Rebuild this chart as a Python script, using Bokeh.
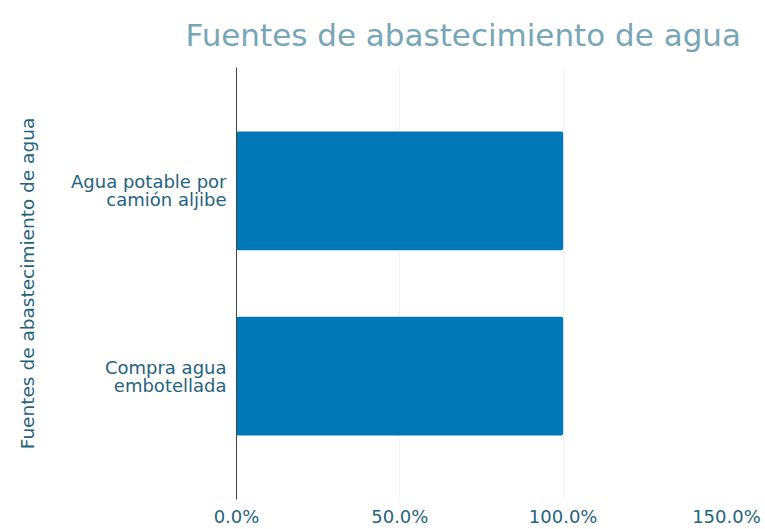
from bokeh.plotting import figure
from bokeh.models import Range1d, FixedTicker
from bokeh.embed import file_html
from bokeh.resources import INLINE

categories = ["Compra agua\nembotellada", "Agua potable por\ncamión aljibe"]
values = [100.0, 100.0]
x_ticks = [0, 50, 100, 150]
title_text = "Fuentes de abastecimiento de agua"
y_title = "Fuentes de abastecimiento de agua"

FONT = "DejaVu Sans"
TICK_COLOR = "#25637e"
TITLE_COLOR = "#77a6b6"
BAR_COLOR = "#0077b6"

positions = list(range(len(categories)))

p = figure(width=765, height=529, output_backend="svg", toolbar_location=None,
           x_range=Range1d(0, 150), y_range=Range1d(-0.665, 1.665),
           min_border_left=236, min_border_right=39, min_border_top=62,
           min_border_bottom=27)

p.hbar(y=positions, right=values, left=0, height=0.64, color=BAR_COLOR,
       line_color=None, border_radius=2)

p.title.text = title_text
p.title.text_font = FONT
p.title.text_font_size = "31px"
p.title.text_font_style = "normal"
p.title.text_color = TITLE_COLOR
p.title.text_line_height = 1.0
p.title.align = "left"
p.title.offset = -51
p.title.standoff = 29

p.outline_line_color = None
p.background_fill_color = "white"
p.border_fill_color = "white"

# x axis
p.xaxis.ticker = FixedTicker(ticks=x_ticks)
p.xaxis.major_label_overrides = {t: f"{t:.1f}%" for t in x_ticks}
p.xaxis.axis_line_color = None
p.xaxis.major_tick_line_color = None
p.xaxis.minor_tick_line_color = None
p.xaxis.major_tick_in = 0
p.xaxis.major_tick_out = 0
p.xaxis.major_label_text_font = FONT
p.xaxis.major_label_text_font_size = "18px"
p.xaxis.major_label_text_color = TICK_COLOR
p.xaxis.major_label_standoff = 6

# y axis
p.yaxis.ticker = FixedTicker(ticks=positions)
p.yaxis.major_label_overrides = {i: c for i, c in zip(positions, categories)}
p.yaxis.axis_line_color = "#444444"
p.yaxis.axis_line_width = 1
p.yaxis.major_tick_line_color = None
p.yaxis.minor_tick_line_color = None
p.yaxis.major_tick_in = 0
p.yaxis.major_tick_out = 0
p.yaxis.major_label_text_font = FONT
p.yaxis.major_label_text_font_size = "18px"
p.yaxis.major_label_text_line_height = 0.85
p.yaxis.major_label_text_color = TICK_COLOR
p.yaxis.major_label_standoff = 10
p.yaxis.axis_label = y_title
p.yaxis.axis_label_text_font = FONT
p.yaxis.axis_label_text_font_size = "18.5px"
p.yaxis.axis_label_text_font_style = "normal"
p.yaxis.axis_label_text_color = TICK_COLOR
p.yaxis.axis_label_standoff = 30

p.xgrid.grid_line_color = "#f3f3f3"
p.ygrid.grid_line_color = None

open("out.html", "w").write(file_html(p, INLINE))
